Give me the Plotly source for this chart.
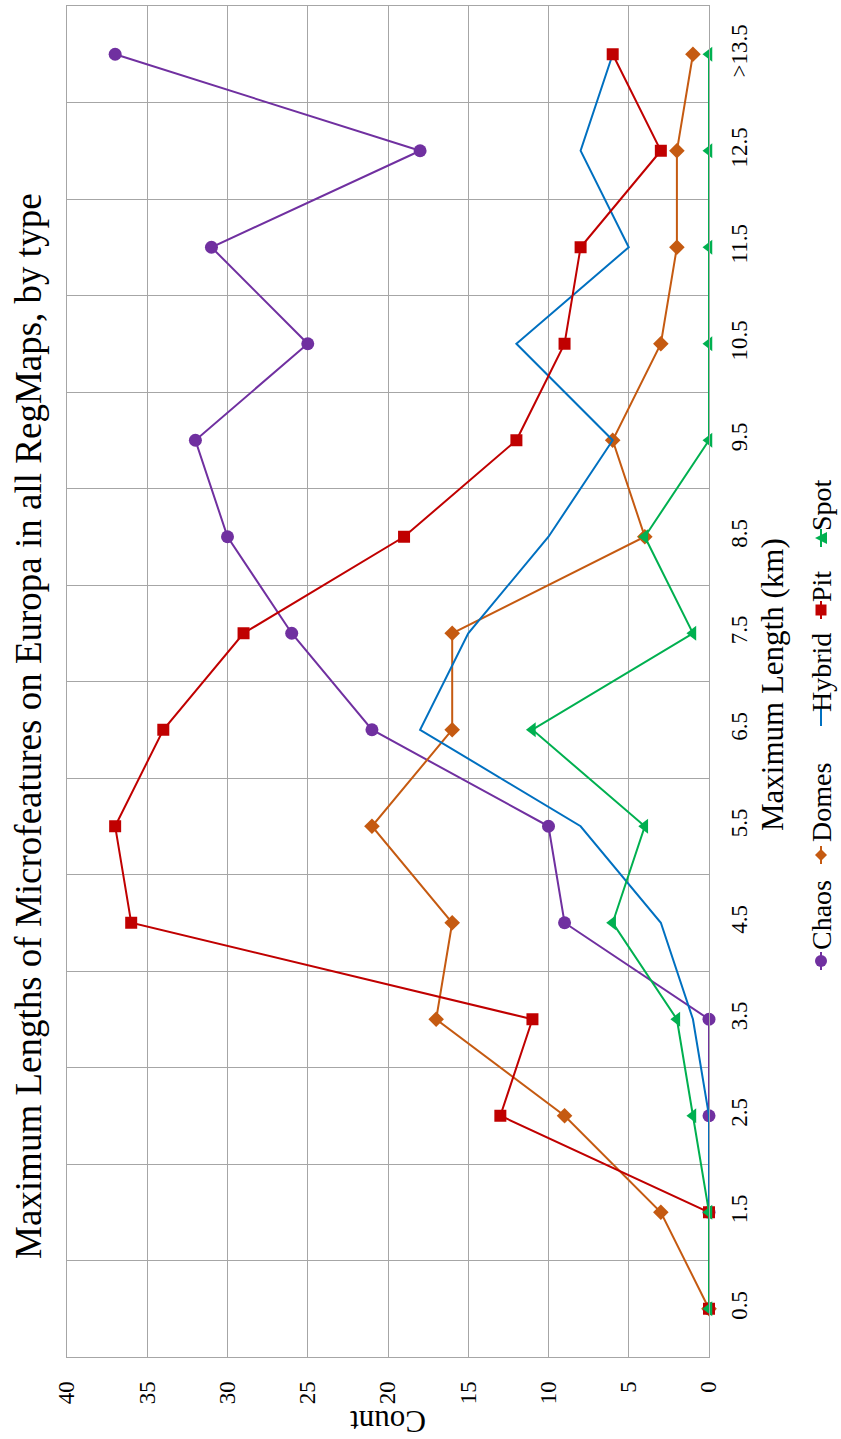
import plotly.graph_objects as go

# Length bins (km) and feature counts per bin
categories = ["0.5", "1.5", "2.5", "3.5", "4.5", "5.5", "6.5", "7.5",
              "8.5", "9.5", "10.5", "11.5", "12.5", ">13.5"]
chaos = [0, 0, 0, 0, 9, 10, 21, 26, 30, 32, 25, 31, 18, 37]
domes = [0, 3, 9, 17, 16, 21, 16, 16, 4, 6, 3, 2, 2, 1]
hybrid = [0, 0, 0, 1, 3, 8, 18, 15, 10, 6, 12, 5, 8, 6]
pit = [0, 0, 13, 11, 36, 37, 34, 29, 19, 12, 9, 8, 3, 6]
spot = [0, 0, 1, 2, 6, 4, 11, 1, 4, 0, 0, 0, 0, 0]
count_ticks = [0, 5, 10, 15, 20, 25, 30, 35, 40]

FONT = "Liberation Serif"
W, H = 841, 1439
M_L, M_R, M_T, M_B = 67, 132, 6, 82
PW, PH = W - M_L - M_R, H - M_T - M_B
idx = list(range(len(categories)))

series = [
    ("Chaos", chaos, "#7030A0", "circle", 13),
    ("Domes", domes, "#C55A11", "diamond", 12),
    ("Hybrid", hybrid, "#0070C0", None, 0),
    ("Pit", pit, "#C00000", "square", 12),
    ("Spot", spot, "#00B050", "triangle-left", 13),
]

fig = go.Figure()
for name, vals, color, sym, size in series:
    fig.add_trace(go.Scatter(
        x=vals, y=idx, name=name,
        mode="lines+markers" if sym else "lines",
        line=dict(color=color, width=2),
        marker=dict(symbol=sym or "circle", size=size, color=color,
                    line=dict(width=0)),
        showlegend=False, cliponaxis=False,
    ))


def px_x(px):
    return (px - M_L) / PW


def px_y(py):
    return (H - M_B - py) / PH


# Legend, laid out along the right edge and reading upward
LEG_X = 821
legend_glyph_py = [961, 855, 717, 610, 538]
legend_text_py = [915, 803, 673, 587, 505]
shapes = []
for (name, vals, color, sym, size), gy, ty in zip(series, legend_glyph_py, legend_text_py):
    shapes.append(dict(type="line", xref="paper", yref="paper",
                       x0=px_x(LEG_X), x1=px_x(LEG_X),
                       y0=px_y(gy - 9), y1=px_y(gy + 9),
                       line=dict(color=color, width=2)))
    r = 6
    if sym == "circle":
        shapes.append(dict(type="circle", xref="paper", yref="paper",
                           x0=px_x(LEG_X - r), x1=px_x(LEG_X + r),
                           y0=px_y(gy + r), y1=px_y(gy - r),
                           fillcolor=color, line=dict(width=0)))
    elif sym == "square":
        shapes.append(dict(type="rect", xref="paper", yref="paper",
                           x0=px_x(LEG_X - 5.5), x1=px_x(LEG_X + 5.5),
                           y0=px_y(gy + 5.5), y1=px_y(gy - 5.5),
                           fillcolor=color, line=dict(width=0)))
    elif sym == "diamond":
        pts = [(LEG_X - r, gy), (LEG_X, gy - r), (LEG_X + r, gy), (LEG_X, gy + r)]
        path = "M " + " L ".join(f"{px_x(a):.5f},{px_y(b):.5f}" for a, b in pts) + " Z"
        shapes.append(dict(type="path", xref="paper", yref="paper", path=path,
                           fillcolor=color, line=dict(width=0)))
    elif sym == "triangle-left":
        pts = [(LEG_X - r, gy), (LEG_X + r, gy - r), (LEG_X + r, gy + r)]
        path = "M " + " L ".join(f"{px_x(a):.5f},{px_y(b):.5f}" for a, b in pts) + " Z"
        shapes.append(dict(type="path", xref="paper", yref="paper", path=path,
                           fillcolor=color, line=dict(width=0)))
    fig.add_annotation(x=px_x(LEG_X), y=px_y(ty), xref="paper", yref="paper",
                       text=name, showarrow=False, textangle=-90,
                       xanchor="center", yanchor="middle",
                       font=dict(family=FONT, size=28, color="black"))

fig.add_annotation(
    text="Maximum Lengths of Microfeatures on Europa in all RegMaps, by type",
    xref="paper", yref="paper", x=px_x(29), y=px_y(726), showarrow=False,
    textangle=-90, xanchor="center", yanchor="middle",
    font=dict(family=FONT, size=37, color="black"))
fig.add_annotation(
    text="Maximum Length (km)", xref="paper", yref="paper",
    x=px_x(772), y=px_y(685), showarrow=False, textangle=-90,
    xanchor="center", yanchor="middle",
    font=dict(family=FONT, size=31, color="black"))
fig.add_annotation(
    text="Count", xref="x", yref="paper", x=20, y=px_y(1421),
    showarrow=False, textangle=180, xanchor="center", yanchor="middle",
    font=dict(family=FONT, size=31, color="black"))

fig.update_layout(
    width=W, height=H,
    margin=dict(l=M_L, r=M_R, t=M_T, b=M_B),
    paper_bgcolor="white", plot_bgcolor="white",
    font=dict(family=FONT, color="black"),
    shapes=shapes,
    xaxis=dict(
        range=[40, 0], tickvals=count_ticks, tickangle=-90,
        showgrid=True, gridcolor="#A6A6A6", gridwidth=1,
        showline=True, linecolor="#A6A6A6", mirror=True,
        zeroline=False, ticks="", ticklabelstandoff=14,
        tickfont=dict(family=FONT, size=23),
    ),
    yaxis=dict(
        range=[-0.5, 13.5], tickvals=idx, ticktext=categories,
        tickangle=-90, side="right", showgrid=False,
        showline=True, linecolor="#A6A6A6", mirror=True,
        zeroline=False, ticks="", ticklabelstandoff=9,
        tickfont=dict(family=FONT, size=23),
        minor=dict(tick0=0.5, dtick=1, showgrid=True,
                   gridcolor="#A6A6A6", gridwidth=1, ticks=""),
    ),
)

fig.write_html("out.html")
